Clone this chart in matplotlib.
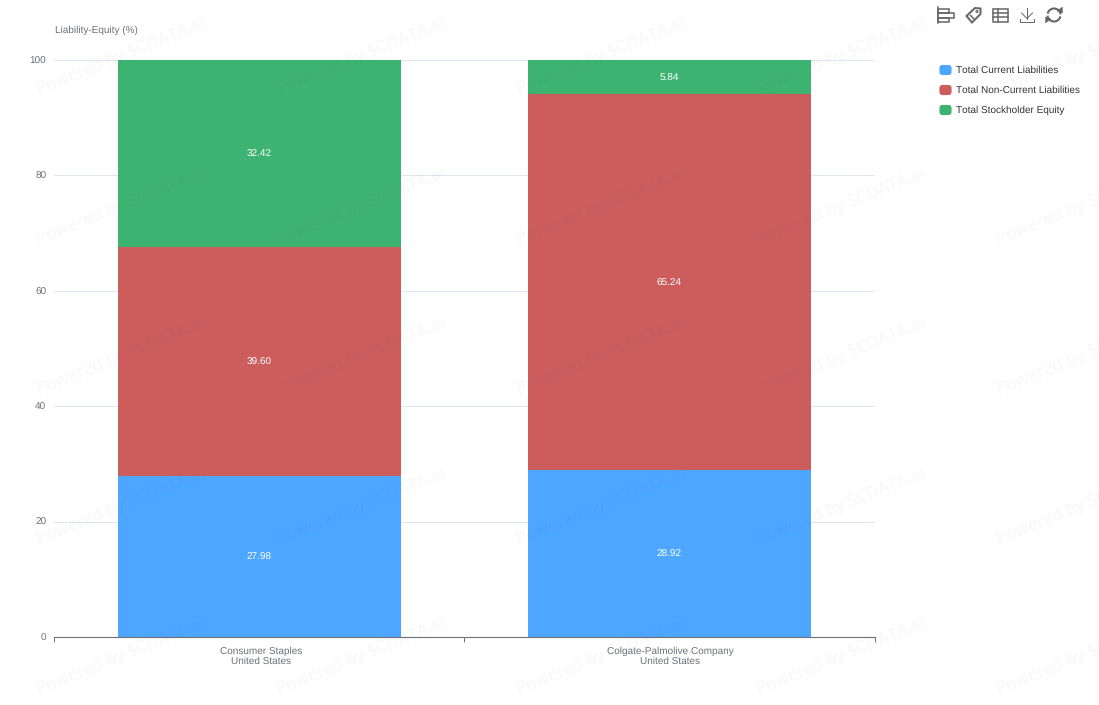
"""Stacked liability-equity bars, redrawn with matplotlib. Writes out.png."""

import math

import matplotlib

matplotlib.use("Agg")
import matplotlib.pyplot as plt
from matplotlib.patches import Circle, FancyBboxPatch, Polygon, Rectangle

W, H = 1099, 705

companies = ["Consumer Staples\nUnited States", "Colgate-Palmolive Company\nUnited States"]
series_names = ["Total Current Liabilities", "Total Non-Current Liabilities", "Total Stockholder Equity"]
current_liab = [27.98, 28.92]
non_current_liab = [39.60, 65.24]
equity = [32.42, 5.84]
series_colors = ["#4DA6FF", "#CD5C5C", "#3CB371"]
y_ticks = [0, 20, 40, 60, 80, 100]

TEXT = "#6E7079"
GRID = "#E0E6F1"
ICON = "#666666"

plt.rcParams["font.family"] = ["Liberation Sans", "DejaVu Sans"]
plt.rcParams["text.hinting"] = "no_hinting"
plt.rcParams["text.hinting_factor"] = 1
PX = 0.72  # 1 css px in points at dpi 100

fig = plt.figure(figsize=(W / 100, H / 100), dpi=100, facecolor="white")
ax = fig.add_axes([54 / W, 1 - 637 / H, (874.5 - 54) / W, (637 - 60) / H])

# Stacked bars
stacks = [current_liab, non_current_liab, equity]
bottom = [0.0, 0.0]
xs = [0, 1]
for vals, color in zip(stacks, series_colors):
    ax.bar(xs, vals, width=0.69, bottom=bottom, color=color, linewidth=0, zorder=3)
    for x, v, b in zip(xs, vals, bottom):
        ax.text(x, b + v / 2, f"{v:.2f}", color="white", fontsize=10 * PX,
                ha="center", va="center_baseline", zorder=4)
    bottom = [b + v for b, v in zip(bottom, vals)]

ax.set_xlim(-0.5, 1.5)
ax.set_ylim(0, 100)
ax.set_yticks(y_ticks)
ax.set_xticks([-0.5, 0.5, 1.5])
ax.set_xticklabels([])
ax.tick_params(axis="x", length=3.6, width=0.7, color=TEXT)
ax.tick_params(axis="y", length=0, pad=5.5, labelsize=10 * PX, labelcolor=TEXT)
for tick_label in ax.get_yticklabels():
    tick_label.set_verticalalignment("center_baseline")
ax.grid(axis="y", color=GRID, linewidth=0.75, zorder=0)
ax.set_axisbelow(True)
for name in ("top", "right", "left"):
    ax.spines[name].set_visible(False)
ax.spines["bottom"].set_color(TEXT)
ax.spines["bottom"].set_linewidth(0.8)
ax.spines["bottom"].set_zorder(5)

# Overlay in pixel coordinates for legend, toolbox and watermark
ov = fig.add_axes([0, 0, 1, 1], facecolor="none")
ov.set_xlim(0, W)
ov.set_ylim(H, 0)
ov.axis("off")

ov.text(55, 30, "Liability-Equity (%)", color=TEXT, fontsize=10 * PX, ha="left", va="center")
for x, label in zip([261, 670.5], companies):
    for i, part in enumerate(label.split("\n")):
        ov.text(x, 650 + 10 * i, part, color=TEXT, fontsize=10 * PX, ha="center", va="center_baseline")

# Legend
for i, (name, color) in enumerate(zip(series_names, series_colors)):
    y = 70 + 20 * i
    ov.add_patch(FancyBboxPatch((940, y - 4.5), 11, 9, boxstyle="round,pad=0,rounding_size=2.5",
                                facecolor=color, edgecolor=color, linewidth=0.8))
    ov.text(956, y, name, color="#333333", fontsize=10 * PX, ha="left", va="center")

# Toolbox icons
lw = 1.1
# stacked-bar switch
ov.plot([938, 938], [7, 23], color=ICON, lw=lw)
for x1, y0 in [(949, 8.5), (954, 13), (949, 17.5)]:
    ov.add_patch(Rectangle((938, y0), x1 - 938, 4.5, fill=False, edgecolor=ICON, lw=lw))
# tag
ov.add_patch(Polygon([(966.5, 16), (975, 8), (980.5, 8.5), (980.5, 14), (972, 22.5)],
                     closed=True, fill=False, edgecolor=ICON, lw=lw * 1.3))
ov.add_patch(Circle((977, 11.5), 1.0, fill=False, edgecolor=ICON, lw=0.8))
ov.plot([970.5, 973.5], [15.5, 18.5], color=ICON, lw=lw)
# data table
ov.add_patch(Rectangle((992.5, 8.5), 15, 13, fill=False, edgecolor=ICON, lw=lw))
for y in (12.8, 17.2):
    ov.plot([992.5, 1007.5], [y, y], color=ICON, lw=lw)
ov.plot([997.5, 997.5], [8.5, 21.5], color=ICON, lw=lw)
# download
ov.plot([1020, 1020, 1034, 1034], [18.5, 22, 22, 18.5], color=ICON, lw=0.7)
ov.plot([1027, 1027], [8, 18.5], color=ICON, lw=0.7)
ov.plot([1021.5, 1027, 1032.5], [13, 18.5, 13], color=ICON, lw=0.7)
# refresh: two arcs, each ending in an arrow head
theta = [math.radians(t) for t in range(15, 160, 8)]
cx, cy, r = 1054, 15, 6.5
ov.plot([cx + r * math.cos(t) for t in theta], [cy - r * math.sin(t) for t in theta],
        color=ICON, lw=1.5)
ov.plot([cx - r * math.cos(t) for t in theta], [cy + r * math.sin(t) for t in theta],
        color=ICON, lw=1.5)
ov.add_patch(Polygon([(1057, 11), (1062.5, 7), (1062.5, 13)], closed=True, color=ICON, lw=0.3))
ov.add_patch(Polygon([(1051, 19), (1045.5, 23), (1045.5, 17)], closed=True, color=ICON, lw=0.3))

# Watermark
for col in range(5):
    for row in range(5):
        ov.text(39 + 240 * col, 95 + 150 * row, "Powered by SCDATA.ai", color="#666666", alpha=0.05,
                fontsize=17 * PX, rotation=22, rotation_mode="anchor", ha="left", va="baseline",
                family=["Noto Sans", "DejaVu Sans"], clip_on=True)

fig.savefig("out.png", dpi=100, facecolor="white")
